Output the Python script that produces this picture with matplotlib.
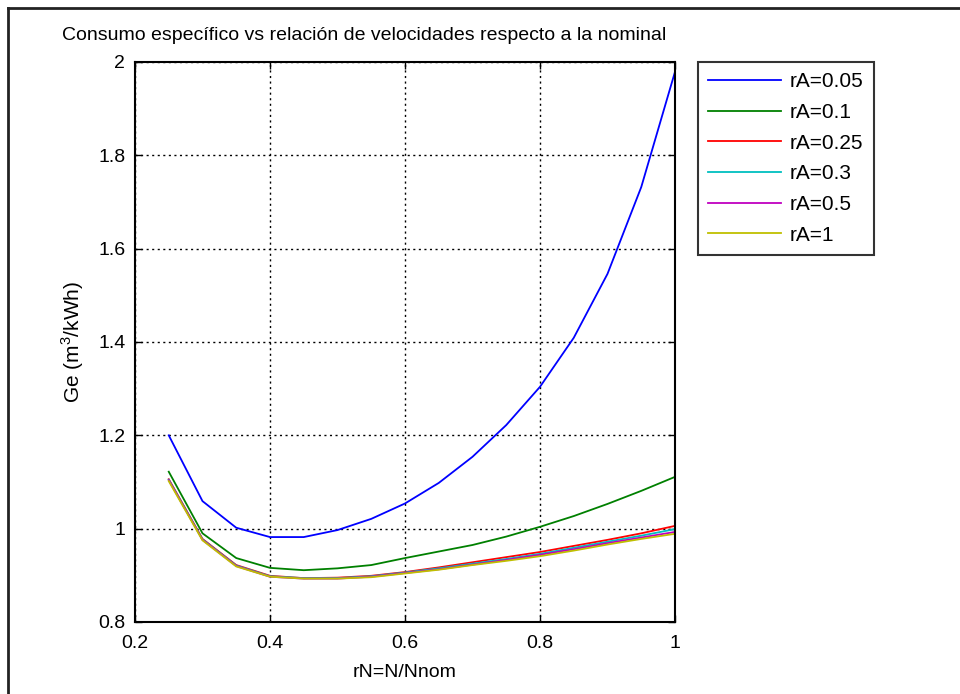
import matplotlib
matplotlib.use("Agg")
import matplotlib.pyplot as plt
from matplotlib.lines import Line2D

plt.rcParams['font.family'] = ['Liberation Sans', 'DejaVu Sans']
plt.rcParams['mathtext.fontset'] = 'custom'
plt.rcParams['mathtext.rm'] = 'Liberation Sans'

# Relative speed N/Nnom
rN = [0.25, 0.30, 0.35, 0.40, 0.45, 0.50, 0.55, 0.60,
      0.65, 0.70, 0.75, 0.80, 0.85, 0.90, 0.95, 1.00]

# Specific consumption Ge (m3/kWh) for each load ratio rA
ge_005 = [1.200, 1.059, 1.002, 0.982, 0.982, 0.997, 1.021, 1.054,
          1.098, 1.154, 1.222, 1.304, 1.409, 1.546, 1.732, 1.979]
ge_010 = [1.122, 0.990, 0.937, 0.916, 0.911, 0.915, 0.922, 0.937,
          0.951, 0.965, 0.983, 1.004, 1.027, 1.053, 1.081, 1.111]
ge_025 = [1.106, 0.978, 0.922, 0.899, 0.894, 0.895, 0.899, 0.907,
          0.917, 0.928, 0.939, 0.950, 0.963, 0.976, 0.990, 1.006]
ge_030 = [1.105, 0.977, 0.921, 0.898, 0.894, 0.894, 0.898, 0.906,
          0.915, 0.925, 0.935, 0.946, 0.959, 0.972, 0.985, 0.999]
ge_050 = [1.104, 0.976, 0.920, 0.897, 0.893, 0.893, 0.897, 0.905,
          0.913, 0.923, 0.933, 0.944, 0.956, 0.969, 0.981, 0.993]
ge_100 = [1.102, 0.975, 0.919, 0.897, 0.893, 0.893, 0.896, 0.904,
          0.912, 0.922, 0.931, 0.941, 0.953, 0.966, 0.978, 0.989]

labels = ['rA=0.05', 'rA=0.1', 'rA=0.25', 'rA=0.3', 'rA=0.5', 'rA=1']
series = [ge_005, ge_010, ge_025, ge_030, ge_050, ge_100]
colors = [(0, 0, 1), (0, 0.5, 0), (1, 0, 0),
          (0, 0.75, 0.75), (0.75, 0, 0.75), (0.75, 0.75, 0)]

FS = 14
W, H = 960, 694
fig = plt.figure(figsize=(W / 100, H / 100), dpi=100)
ax = fig.add_axes([135 / W, 1 - 622 / H, 540 / W, 560 / H])

for y, c, lab in zip(series, colors, labels):
    ax.plot(rN, y, color=c, lw=1.3, label=lab)

ax.set_xlim(0.2, 1.0)
ax.set_ylim(0.8, 2.0)
ax.set_xticks([0.2, 0.4, 0.6, 0.8, 1.0])
ax.set_xticklabels(['0.2', '0.4', '0.6', '0.8', '1'])
ax.set_yticks([0.8, 1.0, 1.2, 1.4, 1.6, 1.8, 2.0])
ax.set_yticklabels(['0.8', '1', '1.2', '1.4', '1.6', '1.8', '2'])
ax.tick_params(direction='in', length=5, width=1, top=True, right=True,
               labelsize=FS, colors='black')
ax.tick_params(axis='x', pad=9)
ax.tick_params(axis='y', pad=7)
ax.grid(True, color='black', linestyle=(0, (1.5, 2.5)), linewidth=1)
for s in ax.spines.values():
    s.set_linewidth(1.5)
    s.set_color('black')

ax.set_xlabel('rN=N/Nnom', fontsize=FS, labelpad=9)
ax.set_ylabel('Ge (m$^3$/kWh)', fontsize=15, labelpad=9)

fig.text(62 / W, 1 - 36 / H, 'Consumo específico vs relación de velocidades respecto a la nominal',
         fontsize=FS, ha='left', va='center')

leg = ax.legend(loc='upper left', bbox_to_anchor=(698 / W, 1 - 62 / H),
                bbox_transform=fig.transFigure, borderaxespad=0,
                fontsize=15, frameon=True, fancybox=False, handlelength=3.5,
                handletextpad=0.4, labelspacing=0.56, borderpad=0.5)
leg.get_frame().set_edgecolor('black')
leg.get_frame().set_linewidth(1.5)

# Outer frame lines along the top and left edges
fig.add_artist(Line2D([8 / W, 8 / W], [0, 1 - 8 / H], transform=fig.transFigure,
                      color='#222222', lw=2))
fig.add_artist(Line2D([8 / W, 1], [1 - 8 / H, 1 - 8 / H], transform=fig.transFigure,
                      color='#222222', lw=2))

fig.savefig('out.png', dpi=100)
